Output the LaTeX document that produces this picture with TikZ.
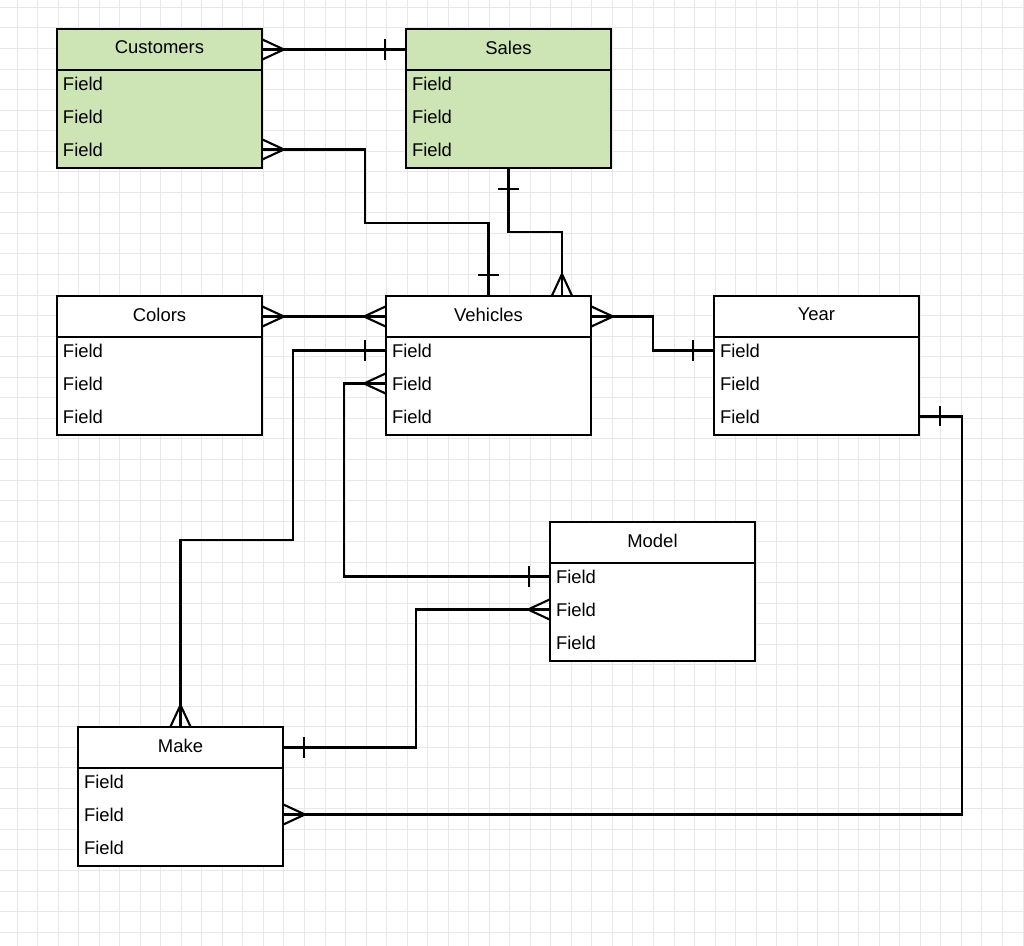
\documentclass[tikz,border=0pt]{standalone}
\usepackage{fontspec}
\setmainfont{Liberation Sans}
\usetikzlibrary{arrows.meta,positioning}
\definecolor{erGreen}{RGB}{205,228,180}
% crow's foot and single bar ends
\pgfdeclarearrow{
  name=Crow,
  setup code={
    \pgfarrowssettipend{0pt}
    \pgfarrowssetlineend{0pt}
    \pgfarrowssetbackend{-12.5pt}
  },
  drawing code={
    \pgfsetdash{}{0pt}
    \pgfsetroundjoin
    \pgfpathmoveto{\pgfqpoint{0pt}{5.8pt}}
    \pgfpathlineto{\pgfqpoint{-12.5pt}{0pt}}
    \pgfpathlineto{\pgfqpoint{0pt}{-5.8pt}}
    \pgfusepathqstroke
  }
}
\pgfdeclarearrow{
  name=One,
  setup code={
    \pgfarrowssettipend{0pt}
    \pgfarrowssetlineend{0pt}
    \pgfarrowssetbackend{-12pt}
  },
  drawing code={
    \pgfsetdash{}{0pt}
    \pgfpathmoveto{\pgfqpoint{-11.9pt}{5.7pt}}
    \pgfpathlineto{\pgfqpoint{-11.9pt}{-5.7pt}}
    \pgfusepathqstroke
  }
}
\tikzset{
  head/.style={draw,fill=white,line width=1.1pt,minimum width=4.1cm,minimum height=0.82cm,
               inner sep=0pt,outer sep=0pt,anchor=north west,text depth=0.08cm,
               font=\fontsize{10.5}{12}\selectfont},
  body/.style={draw,fill=white,line width=1.1pt,minimum width=4.1cm,minimum height=1.96cm,
               inner sep=0pt,outer sep=0pt},
  field/.style={minimum width=4.1cm,minimum height=0.66cm,text width=3.86cm,inner xsep=0.12cm,
                inner ysep=0pt,outer sep=0pt,align=left,font=\fontsize{10.5}{12}\selectfont},
  hl/.style={fill=erGreen},
  link/.style={line width=1.2pt},
  gridline/.style={gray!18,line width=0.5pt},
}

\begin{document}
\begin{tikzpicture}[x=0.02cm,y=-0.02cm]
  \fill[white] (0,0) rectangle (1024,946);
  \useasboundingbox (0,0) rectangle (1024,946);
  %% grid paper
  \foreach \k in {0,...,49}
    \draw[gridline] ({17+20.53*\k},0) -- ({17+20.53*\k},946);
  \foreach \k in {0,...,45}
    \draw[gridline] (0,{7.3+20.55*\k}) -- (1024,{7.3+20.55*\k});

  %% Customers
  \node[head,hl]                    (cust)   at (57,29) {Customers};
  \node[body,hl,below=0pt of cust]  (custb)  {};
  \node[field,below=-0.06cm of cust] (cust1) {Field};
  \node[field,below=0pt of cust1]   (cust2)  {Field};
  \node[field,below=0pt of cust2]   (cust3)  {Field};
  %% Sales
  \node[head,hl]                    (sales)  at (406,29) {Sales};
  \node[body,hl,below=0pt of sales] (salesb) {};
  \node[field,below=-0.06cm of sales] (sales1) {Field};
  \node[field,below=0pt of sales1]  (sales2) {Field};
  \node[field,below=0pt of sales2]  (sales3) {Field};
  %% Colors
  \node[head]                       (col)    at (57,296) {Colors};
  \node[body,below=0pt of col]      (colb)   {};
  \node[field,below=-0.06cm of col] (col1)   {Field};
  \node[field,below=0pt of col1]    (col2)   {Field};
  \node[field,below=0pt of col2]    (col3)   {Field};
  %% Vehicles
  \node[head]                       (veh)    at (386,296) {Vehicles};
  \node[body,below=0pt of veh]      (vehb)   {};
  \node[field,below=-0.06cm of veh] (veh1)   {Field};
  \node[field,below=0pt of veh1]    (veh2)   {Field};
  \node[field,below=0pt of veh2]    (veh3)   {Field};
  %% Year
  \node[head]                       (year)   at (714,296) {Year};
  \node[body,below=0pt of year]     (yearb)  {};
  \node[field,below=-0.06cm of year] (year1) {Field};
  \node[field,below=0pt of year1]   (year2)  {Field};
  \node[field,below=0pt of year2]   (year3)  {Field};
  %% Model
  \node[head]                       (model)  at (550,522) {Model};
  \node[body,below=0pt of model]    (modelb) {};
  \node[field,below=-0.06cm of model] (model1) {Field};
  \node[field,below=0pt of model1]  (model2) {Field};
  \node[field,below=0pt of model2]  (model3) {Field};
  %% Make
  \node[head]                       (make)   at (78,727) {Make};
  \node[body,below=0pt of make]     (makeb)  {};
  \node[field,below=-0.06cm of make] (make1) {Field};
  \node[field,below=0pt of make1]   (make2)  {Field};
  \node[field,below=0pt of make2]   (make3)  {Field};

  %% Relations
  \draw[link,{Crow}-{One}] (cust.east) -- (sales.west);
  \draw[link,{Crow}-{One}] (cust3.east) -| (365,223) -| (veh.north);
  \draw[link,{One}-{Crow}] (salesb.south) -- ++(0,64) -| ([xshift=1.47cm]veh.north);
  \draw[link,{Crow}-{Crow}] (col.east) -- (veh.west);
  \draw[link,{Crow}-{One}] (veh.east) -- ++(62,0) |- (year1.west);
  \draw[link,{One}-{Crow}] (veh1.west) -| (293,540) -| (make.north);
  \draw[link,{Crow}-{One}] (veh2.west) -- ++(-42,0) |- (model1.west);
  \draw[link,{Crow}-{One}] (model2.west) -- ++(-134,0) |- (make.east);
  \draw[link,{One}-{Crow}] (year3.east) -- ++(43,0) |- (make2.east);
\end{tikzpicture}
\end{document}
